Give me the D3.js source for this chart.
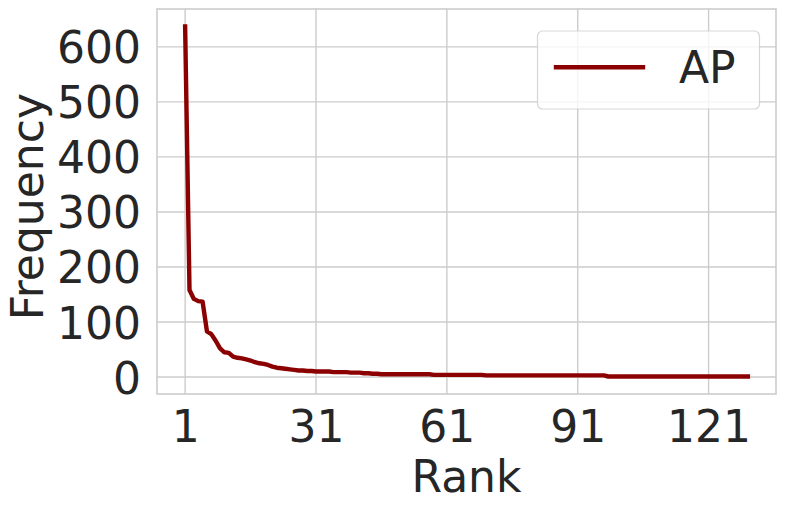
<!DOCTYPE html>
<html>
<head>
<meta charset="utf-8">
<script src="https://cdn.jsdelivr.net/npm/d3@7"></script>
<style>
  html, body { margin: 0; padding: 0; background: #fff; }
  svg { display: block; }
  text { font-family: "DejaVu Sans", sans-serif; fill: #262626; }
</style>
</head>
<body>
<svg id="chart" width="786" height="509"></svg>
<script>
// ---- data ----
const seriesName = "AP";
const frequency = [
  637, 158, 142, 138, 137, 83, 78, 66, 52, 45,
  44, 37, 35, 34, 32, 30, 27, 25, 24, 22,
  19, 17, 16, 15, 14, 13, 12, 12, 11, 11,
  10, 10, 10, 10, 9, 9, 9, 9, 8, 8,
  8, 7, 7, 6, 6, 5, 5, 5, 5, 5,
  5, 5, 5, 5, 5, 5, 5, 4, 4, 4,
  4, 4, 4, 4, 4, 4, 4, 4, 4, 3,
  3, 3, 3, 3, 3, 3, 3, 3, 3, 3,
  3, 3, 3, 3, 3, 3, 3, 3, 3, 3,
  3, 3, 3, 3, 3, 3, 3, 1, 1, 1,
  1, 1, 1, 1, 1, 1, 1, 1, 1, 1,
  1, 1, 1, 1, 1, 1, 1, 1, 1, 1,
  1, 1, 1, 1, 1, 1, 1, 1, 1, 1
];
const ranks = frequency.map((_, i) => i + 1);
const xTicks = [1, 31, 61, 91, 121];
const yTicks = [0, 100, 200, 300, 400, 500, 600];
const xLabel = "Rank";
const yLabel = "Frequency";

(function () {
// ---- layout ----
const svg = d3.select("#chart");
const pl = 157, pr = 776, pt = 9, pb = 394;
const fs = 44;

const xPad = (d3.max(ranks) - d3.min(ranks)) * 0.05;
const yPad = (d3.max(frequency) - d3.min(frequency)) * 0.05;
const x = d3.scaleLinear()
  .domain([d3.min(ranks) - xPad, d3.max(ranks) + xPad])
  .range([pl, pr]);
const y = d3.scaleLinear()
  .domain([d3.min(frequency) - yPad, d3.max(frequency) + yPad])
  .range([pb, pt]);

// grid
const grid = svg.append("g");
grid.selectAll("line.vx").data(xTicks).enter().append("line")
  .attr("x1", d => x(d)).attr("x2", d => x(d))
  .attr("y1", pt).attr("y2", pb)
  .attr("stroke", "#cccccc").attr("stroke-width", 1.4);
grid.selectAll("line.hy").data(yTicks).enter().append("line")
  .attr("y1", d => y(d)).attr("y2", d => y(d))
  .attr("x1", pl).attr("x2", pr)
  .attr("stroke", "#cccccc").attr("stroke-width", 1.4);

// axes via d3 axis (labels only)
const xAxis = svg.append("g")
  .attr("transform", `translate(0,${pb})`)
  .call(d3.axisBottom(x).tickValues(xTicks).tickSize(0).tickPadding(0).tickFormat(d3.format("d")));
xAxis.select(".domain").remove();
xAxis.selectAll("text")
  .attr("y", 0).attr("dy", null)
  .attr("transform", "translate(0,47.7)")
  .style("font-size", fs + "px")
  .style("font-family", "DejaVu Sans")
  .attr("fill", "#262626");

const yAxis = svg.append("g")
  .attr("transform", `translate(${pl},0)`)
  .call(d3.axisLeft(y).tickValues(yTicks).tickSize(0).tickPadding(0).tickFormat(d3.format("d")));
yAxis.select(".domain").remove();
yAxis.selectAll("text")
  .attr("x", -16).attr("dy", null)
  .attr("dominant-baseline", "alphabetic")
  .attr("transform", "translate(0,16)")
  .style("font-size", fs + "px")
  .style("font-family", "DejaVu Sans")
  .attr("fill", "#262626");

// line
const line = d3.line()
  .x((d, i) => x(ranks[i]))
  .y(d => y(d));
svg.append("path")
  .datum(frequency)
  .attr("d", line)
  .attr("fill", "none")
  .attr("stroke", "#8b0000")
  .attr("stroke-width", 4.4)
  .attr("stroke-linejoin", "round")
  .attr("stroke-linecap", "square");

// frame
svg.append("rect")
  .attr("x", pl).attr("y", pt)
  .attr("width", pr - pl).attr("height", pb - pt)
  .attr("fill", "none").attr("stroke", "#cccccc").attr("stroke-width", 1.6);

// axis labels
svg.append("text")
  .attr("x", (pl + pr) / 2).attr("y", 491.7)
  .attr("text-anchor", "middle")
  .style("font-size", fs + "px")
  .text(xLabel);
svg.append("text")
  .attr("transform", "translate(42.7,206.7) rotate(-90)")
  .attr("text-anchor", "middle")
  .style("font-size", fs + "px")
  .text(yLabel);

// legend
const lg = svg.append("g");
lg.append("rect")
  .attr("x", 537.5).attr("y", 31).attr("width", 222).attr("height", 78)
  .attr("rx", 5).attr("ry", 5)
  .attr("fill", "rgba(255,255,255,0.8)")
  .attr("stroke", "rgba(204,204,204,0.8)").attr("stroke-width", 1.2);
lg.append("line")
  .attr("x1", 556).attr("x2", 643).attr("y1", 67.3).attr("y2", 67.3)
  .attr("stroke", "#8b0000").attr("stroke-width", 4.4)
  .attr("stroke-linecap", "square");
lg.append("text")
  .attr("x", 679).attr("y", 82.7)
  .style("font-size", fs + "px")
  .text(seriesName);
})();
</script>
</body>
</html>
